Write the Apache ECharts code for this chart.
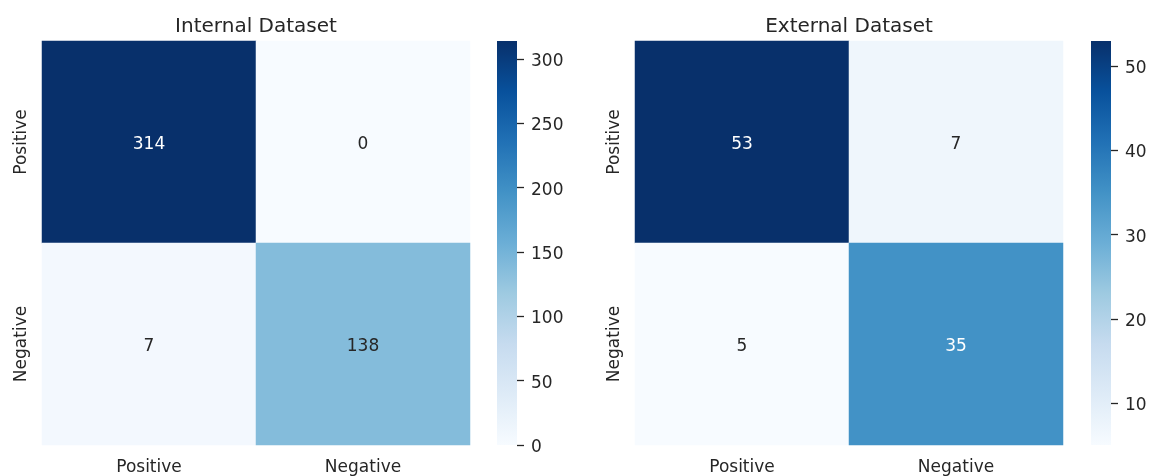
<!DOCTYPE html>
<html>
<head>
<meta charset="utf-8">
<script src="https://cdn.jsdelivr.net/npm/echarts@6/dist/echarts.min.js"></script>
<style>
html,body{margin:0;padding:0;background:#fff;}
#chart{width:1151px;height:476px;}
</style>
</head>
<body>
<div id="chart"></div>
<script>
// ---- data ----
const xCategories = ['Positive', 'Negative'];
const yCategories = ['Negative', 'Positive']; // bottom to top
const titles = ['Internal Dataset', 'External Dataset'];
// rows: [Positive row], [Negative row]; columns: Positive, Negative
const internalMatrix = [[314, 0], [7, 138]];
const externalMatrix = [[53, 7], [5, 35]];
const internalRange = [0, 314];
const externalRange = [5, 53];
const internalTicks = [0, 50, 100, 150, 200, 250, 300];
const externalTicks = [10, 20, 30, 40, 50];
const blues = ['#f7fbff','#deebf7','#c6dbef','#9ecae1','#6baed6','#4292c6','#2171b5','#08519c','#08306b'];

// ---- build ----
const FONT = 'DejaVu Sans';
const TXT = '#262626';
const chart = echarts.init(document.getElementById('chart'));

function buildData(matrix, range) {
  const rowNames = ['Positive', 'Negative'];
  const out = [];
  matrix.forEach((row, r) => {
    row.forEach((v, c) => {
      const t = (v - range[0]) / (range[1] - range[0]);
      const col = t > 0.55 ? '#ffffff' : TXT;
      out.push({
        value: [c, yCategories.indexOf(rowNames[r]), v],
        label: { rich: { v: { color: col, fontFamily: FONT, fontSize: 17, padding: [5, 0, 0, 0] } } }
      });
    });
  });
  return out;
}

const panels = [
  { left: 42, cbLeft: 497, matrix: internalMatrix, range: internalRange, ticks: internalTicks },
  { left: 635, cbLeft: 1091, matrix: externalMatrix, range: externalRange, ticks: externalTicks }
];
const TOP = 41, H = 404, W = 428, CBW = 20;

const grid = [], xAxis = [], yAxis = [], series = [], visualMap = [], title = [];
panels.forEach((p, i) => {
  // heatmap grid
  grid.push({ left: p.left, top: TOP, width: W, height: H });
  xAxis.push({
    type: 'category', gridIndex: 2 * i, data: xCategories,
    axisLine: { show: false }, axisTick: { show: false }, splitLine: { show: false },
    axisLabel: { fontFamily: FONT, fontSize: 17, color: TXT, margin: 14 }
  });
  yAxis.push({
    type: 'category', gridIndex: 2 * i, data: yCategories,
    axisLine: { show: false }, axisTick: { show: false }, splitLine: { show: false },
    axisLabel: { fontFamily: FONT, fontSize: 17, color: TXT, rotate: 90, margin: 12 }
  });
  series.push({
    type: 'heatmap', xAxisIndex: 2 * i, yAxisIndex: 2 * i,
    data: buildData(p.matrix, p.range),
    label: { show: true, formatter: (d) => '{v|' + d.value[2] + '}' },
    emphasis: { disabled: true },
    itemStyle: { borderWidth: 0 }
  });
  visualMap.push({
    show: false, type: 'continuous', seriesIndex: series.length - 1,
    min: p.range[0], max: p.range[1], dimension: 2,
    inRange: { color: blues }
  });
  title.push({
    text: titles[i], left: p.left + W / 2, top: 17, textAlign: 'center', padding: 0,
    textStyle: { fontFamily: FONT, fontSize: 20, fontWeight: 'normal', color: TXT }
  });

  // colorbar grid
  grid.push({ left: p.cbLeft, top: TOP, width: CBW, height: H });
  xAxis.push({
    type: 'category', gridIndex: 2 * i + 1, data: [''], show: false
  });
  yAxis.push({
    type: 'value', gridIndex: 2 * i + 1, position: 'right',
    min: p.range[0], max: p.range[1],
    axisLine: { show: false },
    splitLine: { show: false },
    axisTick: { show: true, inside: false, length: 7, lineStyle: { color: TXT, width: 1.3 }, customValues: p.ticks },
    axisLabel: {
      margin: 14, customValues: p.ticks,
      formatter: (v) => '{t|' + v + '}',
      rich: { t: { fontFamily: FONT, fontSize: 17, color: TXT, padding: [5, 0, 0, 0] } }
    }
  });
  series.push({
    type: 'bar', xAxisIndex: 2 * i + 1, yAxisIndex: 2 * i + 1, stack: 'cb' + i,
    data: [p.range[0]], barWidth: '100%', silent: true,
    itemStyle: { color: 'rgba(0,0,0,0)' }
  });
  series.push({
    type: 'bar', xAxisIndex: 2 * i + 1, yAxisIndex: 2 * i + 1, stack: 'cb' + i,
    data: [p.range[1] - p.range[0]], barWidth: '100%', silent: true,
    itemStyle: {
      color: new echarts.graphic.LinearGradient(0, 1, 0, 0,
        blues.map((c, k) => ({ offset: k / (blues.length - 1), color: c })))
    }
  });
});

chart.setOption({
  backgroundColor: '#ffffff',
  animation: false,
  title, grid, xAxis, yAxis, series, visualMap
});
</script>
</body>
</html>
